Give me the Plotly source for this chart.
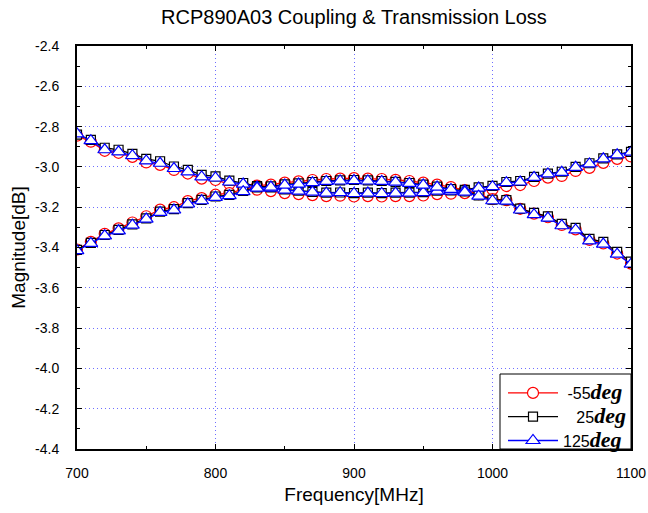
import plotly.graph_objects as go

freq = [700 + 10 * i for i in range(41)]

# -55 deg
red_through = [-2.845, -2.875, -2.92, -2.93, -2.95, -2.978, -2.99, -3.015, -3.033, -3.058,
               -3.065, -3.085, -3.097, -3.113, -3.12, -3.13, -3.135, -3.14, -3.145, -3.143,
               -3.147, -3.145, -3.147, -3.145, -3.145, -3.142, -3.135, -3.133, -3.13, -3.12,
               -3.112, -3.095, -3.09, -3.07, -3.053, -3.045, -3.02, -3.005, -2.98, -2.96, -2.948]
red_coupled = [-3.41, -3.372, -3.332, -3.305, -3.276, -3.245, -3.212, -3.2, -3.17, -3.155,
               -3.138, -3.13, -3.11, -3.093, -3.088, -3.078, -3.072, -3.065, -3.06, -3.058,
               -3.056, -3.058, -3.06, -3.064, -3.07, -3.078, -3.088, -3.1, -3.115, -3.135,
               -3.16, -3.165, -3.208, -3.232, -3.25, -3.288, -3.31, -3.362, -3.38, -3.43, -3.48]
# 25 deg
black_through = [-2.84, -2.866, -2.905, -2.915, -2.935, -2.96, -2.972, -2.998, -3.015, -3.04,
                 -3.047, -3.068, -3.08, -3.095, -3.102, -3.112, -3.118, -3.124, -3.128, -3.127,
                 -3.13, -3.128, -3.13, -3.128, -3.128, -3.125, -3.118, -3.117, -3.114, -3.102,
                 -3.094, -3.075, -3.07, -3.05, -3.033, -3.024, -3.0, -2.982, -2.958, -2.938, -2.925]
black_coupled = [-3.412, -3.377, -3.338, -3.313, -3.285, -3.255, -3.222, -3.21, -3.18, -3.164,
                 -3.147, -3.139, -3.119, -3.102, -3.097, -3.087, -3.082, -3.075, -3.07, -3.067,
                 -3.065, -3.067, -3.07, -3.074, -3.08, -3.088, -3.098, -3.11, -3.122, -3.142,
                 -3.163, -3.165, -3.207, -3.228, -3.246, -3.283, -3.303, -3.357, -3.372, -3.422, -3.47]
# 125 deg
blue_through = [-2.836, -2.87, -2.915, -2.925, -2.944, -2.97, -2.982, -3.008, -3.025, -3.05,
                -3.055, -3.075, -3.085, -3.10, -3.105, -3.115, -3.12, -3.125, -3.13, -3.128,
                -3.132, -3.13, -3.132, -3.13, -3.13, -3.128, -3.12, -3.12, -3.118, -3.105,
                -3.098, -3.078, -3.075, -3.052, -3.035, -3.027, -3.002, -2.985, -2.96, -2.94, -2.927]
blue_coupled = [-3.416, -3.38, -3.342, -3.317, -3.289, -3.259, -3.226, -3.214, -3.184, -3.168,
                -3.151, -3.143, -3.123, -3.105, -3.10, -3.09, -3.085, -3.078, -3.072, -3.07,
                -3.068, -3.07, -3.072, -3.076, -3.082, -3.09, -3.10, -3.112, -3.125, -3.145,
                -3.168, -3.17, -3.214, -3.237, -3.254, -3.292, -3.313, -3.367, -3.383, -3.433, -3.483]

x_ticks = [700, 800, 900, 1000, 1100]
y_ticks = [-2.4, -2.6, -2.8, -3.0, -3.2, -3.4, -3.6, -3.8, -4.0, -4.2, -4.4]

series = [
    ("-55", "red", "circle", 11, red_through, red_coupled, "\u00a0"),
    ("25", "black", "square", 9, black_through, black_coupled, "\u00a0\u00a0\u00a0"),
    ("125", "blue", "triangle-up", 12, blue_through, blue_coupled, ""),
]

fig = go.Figure()
for label, color, sym, size, thr, cpl, pad in series:
    name = (pad + label +
            "<span style='font-family:Liberation Serif;font-size:22px'><b><i>deg</i></b></span>")
    for k, ys in enumerate([thr, cpl]):
        fig.add_trace(go.Scatter(
            x=freq, y=ys, mode="lines+markers", name=name,
            legendgroup=label, showlegend=(k == 0),
            line=dict(color=color, width=1.3),
            marker=dict(symbol=sym, size=size, color="white",
                        line=dict(color=color, width=1.2)),
        ))

grid_color = "rgb(110,110,255)"
axis_common = dict(
    showline=True, linecolor="black", linewidth=2, mirror="allticks",
    ticks="inside", ticklen=5, tickcolor="black", tickwidth=1,
    showgrid=True, gridcolor=grid_color, griddash="1px,3px", gridwidth=1,
    zeroline=False, automargin=False,
    tickfont=dict(family="Liberation Sans", size=14, color="black"),
)

fig.update_xaxes(
    range=[700, 1100], tickvals=x_ticks, ticktext=[str(v) for v in x_ticks],
    title=dict(text="Frequency[MHz]", font=dict(family="Liberation Sans", size=19, color="black"), standoff=8),
    minor=dict(ticks="inside", ticklen=3, dtick=50, tickcolor="black", showgrid=False),
    ticklabelstandoff=10,
    **axis_common,
)
fig.update_yaxes(
    range=[-4.4, -2.4], tickvals=y_ticks, ticktext=[f"{v:.1f}" for v in y_ticks],
    title=dict(text="Magnitude[dB]", font=dict(family="Liberation Sans", size=19, color="black"), standoff=4),
    minor=dict(ticks="inside", ticklen=3, dtick=0.1, tickcolor="black", showgrid=False),
    ticklabelstandoff=13,
    **axis_common,
)

# legend frame (plot area: x 77..631, y 46..449 px)
fig.add_shape(type="rect", xref="paper", yref="paper",
              x0=(500 - 77) / 554, x1=1.0, y0=0.0, y1=(449 - 374) / 403,
              fillcolor="white", line=dict(color="black", width=1), layer="above")

fig.update_layout(
    width=648, height=513,
    margin=dict(l=77, r=17, t=46, b=64),
    paper_bgcolor="white", plot_bgcolor="white",
    title=dict(text="RCP890A03 Coupling & Transmission Loss",
               font=dict(family="Liberation Sans", size=20, color="black"),
               x=354 / 648, xanchor="center", y=1 - 17 / 513, yanchor="middle"),
    legend=dict(x=1, y=-9 / 403, xanchor="right", yanchor="bottom",
                bgcolor="rgba(0,0,0,0)", borderwidth=0,
                font=dict(family="Liberation Sans", size=16, color="black"),
                tracegroupgap=0, itemwidth=50),
    showlegend=True,
)

fig.write_html("out.html", config={"displayModeBar": False},
               post_script="document.body.style.margin='0';")
